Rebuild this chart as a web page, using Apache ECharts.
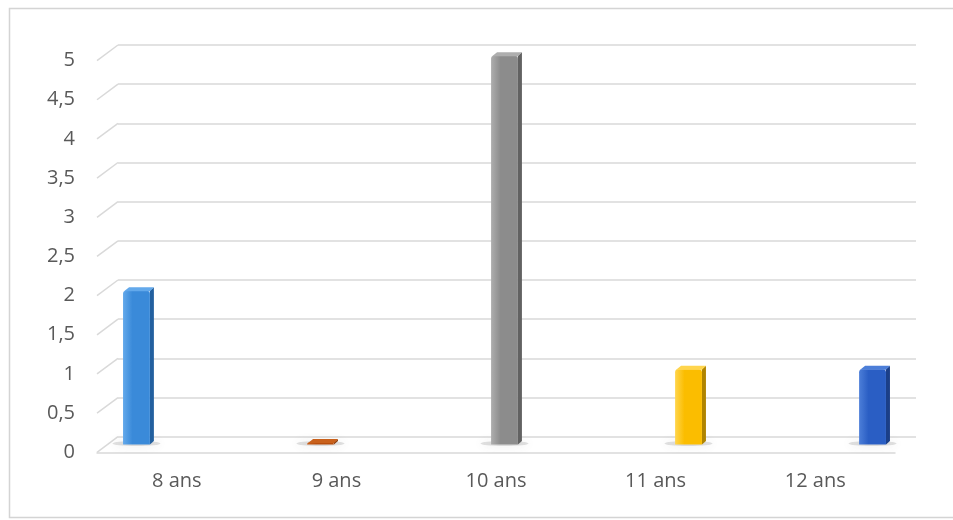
<!DOCTYPE html>
<html>
<head>
<meta charset="utf-8">
<script src="https://cdn.jsdelivr.net/npm/echarts@6/dist/echarts.min.js"></script>
<style>
  html, body { margin: 0; padding: 0; background: #fff; }
  #chart { width: 953px; height: 520px; }
</style>
</head>
<body>
<div id="chart"></div>
<script>
// Ages and counts
const categories = ['8 ans', '9 ans', '10 ans', '11 ans', '12 ans'];
const values = [2, 0, 5, 1, 1];
// Value axis ticks
const yMin = 0;
const yMax = 5;
const yStep = 0.5;

// Face colours per bar: [front, side, top]
const palette = [
  ['#3a8ad9', '#23609f', '#63a9eb'],
  ['#b84e0c', '#8a3a08', '#c9611c'],
  ['#8c8c8c', '#626262', '#aeaeae'],
  ['#fbbd00', '#b08400', '#ffd54d'],
  ['#2a5ec4', '#1b3f88', '#4c7ed8']
];

// Depth of the floor (front edge to back wall)
const DX = 21, DY = -15.6;
const GRID_COLOR = '#d9d9d9';

const tickValues = [];
for (let i = 0; Math.round(i * 10) <= Math.round((yMax - yMin) / yStep * 10); i++) {
  tickValues.push(+(yMin + i * yStep).toFixed(2));
}

const fmt = v => String(v).replace('.', ',');

const chart = echarts.init(document.getElementById('chart'));

function renderSlant(params, api) {
  const p = api.coord([0, api.value(0)]);
  return {
    type: 'line',
    shape: { x1: p[0], y1: p[1], x2: p[0] - DX, y2: p[1] - DY },
    style: { stroke: GRID_COLOR, lineWidth: 1.5 }
  };
}

function renderBar(params, api) {
  const idx = api.value(0);
  const v = api.value(1);
  const band = api.size([1, 0])[0];
  const slot = band * 0.153;
  const base = api.coord([idx, 0]);
  const top = api.coord([idx, v]);
  const cx = base[0] + (idx - 2) * slot + DX / 2 - 2;
  const w = slot * 1.1;
  const x0 = cx - w / 2;
  const x1 = cx + w / 2;
  const yb = base[1] + DY / 2;
  const yt = Math.min(top[1] + DY / 2 + 3, yb - 2);
  const sx = 4, sy = -3.5;
  const c = palette[idx];
  const children = [];
  // soft floor shadow
  children.push({
    type: 'ellipse',
    shape: { cx: cx, cy: yb - 1, rx: 24, ry: 2.5 },
    style: {
      fill: 'rgba(120,120,120,0.22)',
      shadowBlur: 10,
      shadowColor: 'rgba(80,80,80,0.55)'
    },
    z2: 0
  });
  // side face
  children.push({
    type: 'polygon',
    shape: { points: [[x1, yb], [x1, yt], [x1 + sx, yt + sy], [x1 + sx, yb + sy]] },
    style: { fill: c[1] },
    z2: 1
  });
  // front face
  children.push({
    type: 'rect',
    shape: { x: x0, y: yt, width: w, height: yb - yt, r: [3, 3, 0, 0] },
    style: {
      fill: {
        type: 'linear', x: 0, y: 0, x2: 1, y2: 0,
        colorStops: [
          { offset: 0, color: c[2] },
          { offset: 0.35, color: c[0] },
          { offset: 1, color: c[0] }
        ]
      }
    },
    z2: 2
  });
  // top cap
  children.push({
    type: 'polygon',
    shape: { points: [[x0 + 1, yt + 0.5], [x1, yt + 0.5], [x1 + sx, yt + sy], [x0 + sx + 2, yt + sy]] },
    style: { fill: c[2] },
    z2: 3
  });
  return { type: 'group', children: children };
}

const option = {
  backgroundColor: '#ffffff',
  animation: false,
  graphic: [{
    type: 'rect',
    shape: { x: 9.5, y: 8.5, width: 960, height: 509 },
    style: { fill: 'none', stroke: '#d4d4d4', lineWidth: 1.5 },
    silent: true
  }],
  grid: [
    // back wall
    { left: 118, right: 37, top: 45, bottom: 83.3 },
    // front plane
    { left: 97, right: 58, top: 60.6, bottom: 67.7 }
  ],
  xAxis: [
    { gridIndex: 0, type: 'value', min: 0, max: 1, show: false },
    {
      gridIndex: 1, type: 'category', data: categories,
      axisLine: { show: true, lineStyle: { color: GRID_COLOR, width: 1.5 } },
      axisTick: { show: false },
      axisLabel: { color: '#595959', fontFamily: 'Open Sans', fontSize: 20, margin: 19 },
      splitLine: { show: false }
    }
  ],
  yAxis: [
    {
      gridIndex: 0, type: 'value', min: yMin, max: yMax, interval: yStep,
      axisLine: { show: false }, axisTick: { show: false }, axisLabel: { show: false },
      splitLine: { show: true, lineStyle: { color: GRID_COLOR, width: 1.5 } }
    },
    {
      gridIndex: 1, type: 'value', min: yMin, max: yMax, interval: yStep,
      axisLine: { show: false }, axisTick: { show: false },
      splitLine: { show: false },
      axisLabel: { color: '#595959', fontFamily: 'Open Sans', fontSize: 20, margin: 22, formatter: fmt }
    }
  ],
  series: [
    {
      type: 'custom',
      xAxisIndex: 0, yAxisIndex: 0,
      renderItem: renderSlant,
      data: tickValues.map(t => [t]),
      encode: { y: 0 },
      silent: true,
      z: 1
    },
    {
      type: 'custom',
      xAxisIndex: 1, yAxisIndex: 1,
      renderItem: renderBar,
      data: values.map((v, i) => [i, v]),
      encode: { x: 0, y: 1 },
      clip: false,
      z: 5
    }
  ]
};

chart.setOption(option);
</script>
</body>
</html>
